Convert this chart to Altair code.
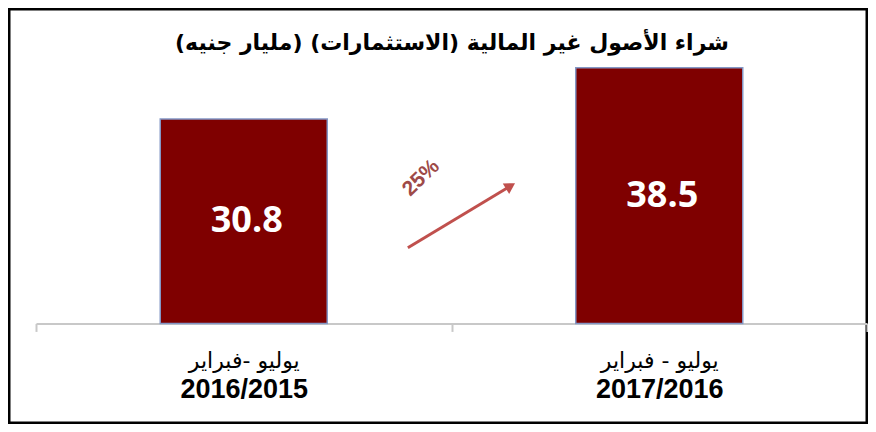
import altair as alt
import pandas as pd

# ---- data ----
periods = ["2016/2015", "2017/2016"]
months = ["يوليو -فبراير", "يوليو - فبراير"]
values = [30.8, 38.5]
title_text = "شراء الأصول غير المالية (الاستثمارات) (مليار جنيه)"
growth_text = ["25%"]

# arrow annotation in data units (x: category index units, y: value units)
arrow_x = [0.895, 1.142]
arrow_y = [11.4, 20.7]
head_x = [1.142]
head_y = [20.7]
growth_x = [0.927]
growth_y = [21.9]

# ---- layout ----
W, H = 858, 414
Y_MIN, Y_MAX = -15, 47.35
X_RANGE = [27, 858]
zero_px = H * Y_MAX / (Y_MAX - Y_MIN)
AXIS_OFFSET = -(H - zero_px)

df = pd.DataFrame({"period": periods, "month": months, "value": values})
arrow_df = pd.DataFrame({"pos": arrow_x, "val": arrow_y})
head_df = pd.DataFrame({"pos": head_x, "val": head_y})
growth_df = pd.DataFrame({"pos": growth_x, "val": growth_y, "label": growth_text})

yscale = alt.Scale(domain=[Y_MIN, Y_MAX], nice=False, zero=False)
band_scale = alt.Scale(domain=periods, range=X_RANGE, paddingInner=0, paddingOuter=0)
num_scale = alt.Scale(domain=[0, 2], range=X_RANGE, nice=False, zero=False)

month_expr = "[" + ",".join("'" + m + "'" for m in months) + "][indexof([" + \
    ",".join("'" + p + "'" for p in periods) + "], datum.value)]"

bars = alt.Chart(df).mark_bar(
    width=167, color="#7f0000", stroke="#8397c6", strokeWidth=1.5
).encode(
    x=alt.X("period:N", scale=band_scale, title=None,
            axis=alt.Axis(orient="bottom", offset=AXIS_OFFSET, labelAngle=0,
                          domainColor="#c8c8c8", domainWidth=2,
                          tickColor="#c8c8c8", tickWidth=2, tickSize=8,
                          tickBand="extent", grid=False,
                          labelExpr=month_expr, labelFont="DejaVu Sans",
                          labelFontSize=22, labelColor="#000000",
                          labelBaseline="middle", labelPadding=29)),
    y=alt.Y("value:Q", scale=yscale, axis=None),
    y2=alt.datum(0),
)

value_text = alt.Chart(df).transform_calculate(
    mid="datum.value / 2"
).mark_text(
    color="white", font="Open Sans", fontWeight="bold", fontSize=36,
    baseline="middle", dx=3
).encode(
    x=alt.X("period:N", scale=band_scale, title=None,
            axis=alt.Axis(orient="bottom", offset=AXIS_OFFSET, labelAngle=0,
                          domain=False, ticks=False, grid=False,
                          labelFont="Liberation Sans", labelFontWeight="bold",
                          labelFontSize=27, labelColor="#000000",
                          labelBaseline="middle", labelPadding=66)),
    y=alt.Y("mid:Q", scale=yscale, axis=None),
    text=alt.Text("value:Q", format=".1f"),
)

arrow_line = alt.Chart(arrow_df).mark_line(color="#c0504d", strokeWidth=3).encode(
    x=alt.X("pos:Q", scale=num_scale, axis=None),
    y=alt.Y("val:Q", scale=yscale, axis=None),
)

arrow_head = alt.Chart(head_df).mark_point(
    shape="triangle-right", filled=True, size=150, angle=328.7,
    color="#c0504d", opacity=1
).encode(
    x=alt.X("pos:Q", scale=num_scale, axis=None),
    y=alt.Y("val:Q", scale=yscale, axis=None),
)

growth = alt.Chart(growth_df).mark_text(
    angle=316, fontSize=21, fontWeight="bold", color="#9e4a48",
    font="Liberation Sans", baseline="middle"
).encode(
    x=alt.X("pos:Q", scale=num_scale, axis=None),
    y=alt.Y("val:Q", scale=yscale, axis=None),
    text="label:N",
)

chart = alt.layer(bars, value_text, arrow_line, arrow_head, growth).resolve_scale(
    x="independent"
).properties(
    width=W, height=H, padding=1, autosize="none", background="white",
    title=alt.TitleParams(text=title_text, font="DejaVu Sans", fontSize=22,
                          fontWeight="bold", anchor="middle", offset=0,
                          baseline="middle", dy=56, dx=14, color="#000000"),
).configure_view(stroke="#000000", strokeWidth=3)

chart.save("out.html", embed_options={"renderer": "svg", "actions": False})
